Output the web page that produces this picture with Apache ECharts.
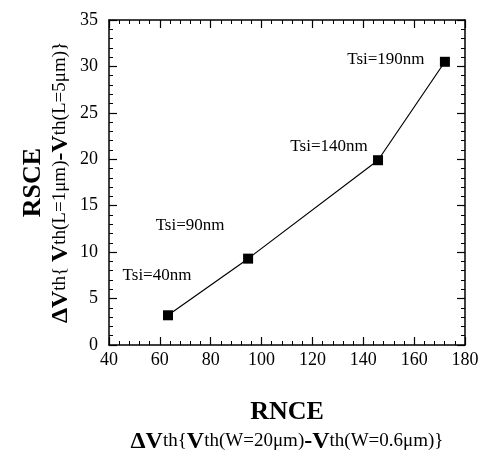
<!DOCTYPE html>
<html>
<head>
<meta charset="utf-8">
<script src="https://cdn.jsdelivr.net/npm/echarts@6/dist/echarts.min.js"></script>
<style>
  html, body { margin: 0; padding: 0; background: #fff; }
  #chart { width: 480px; height: 454px; }
</style>
</head>
<body>
<div id="chart"></div>
<script>
// data
var rnce = [63.2, 94.7, 145.8, 172.1];
var rsce = [3.2, 9.3, 19.9, 30.5];
var tsiLabels = ["Tsi=40nm", "Tsi=90nm", "Tsi=140nm", "Tsi=190nm"];

// where each label sits relative to its marker (px)
var labelOffsets = [[-11, -40], [-58, -33], [-49, -14], [-59, -2]];

var serif = "Liberation Serif";

var myChart = echarts.init(document.getElementById("chart"));

function nameRich(lh) {
  return {
    t: { fontFamily: serif, fontWeight: "bold", fontSize: 26, color: "#000", lineHeight: lh },
    b: { fontFamily: serif, fontWeight: "bold", fontSize: 24, color: "#000", lineHeight: lh },
    s: { fontFamily: serif, fontWeight: "normal", fontSize: 19, color: "#000", lineHeight: lh }
  };
}

function axisBase(pos, showLabel, margin) {
  return {
    type: "value",
    position: pos,
    axisLine: { show: true, onZero: false, lineStyle: { color: "#000", width: 1.5 } },
    axisTick: { show: true, inside: true, length: 8, lineStyle: { color: "#000", width: 1.2 } },
    minorTick: { show: true, splitNumber: 5, length: 4, lineStyle: { color: "#000", width: 1 } },
    splitLine: { show: false },
    axisLabel: {
      show: showLabel,
      color: "#000",
      fontFamily: serif,
      fontSize: 18,
      margin: margin
    }
  };
}

var xBottom = axisBase("bottom", true, 6);
xBottom.min = 40; xBottom.max = 180; xBottom.interval = 20;
xBottom.name = "{t|RNCE}\n{b|ΔV}{s|th}{{b|V}{s|th(W=20μm)}{b|-V}{s|th(W=0.6μm)}}";
xBottom.nameLocation = "middle";
xBottom.nameGap = 53;
xBottom.nameTextStyle = { fontFamily: serif, fontSize: 19, color: "#000", lineHeight: 29, rich: nameRich(29) };

var xTop = axisBase("top", false, 8);
xTop.min = 40; xTop.max = 180; xTop.interval = 20;

var yLeft = axisBase("left", true, 11);
yLeft.min = 0; yLeft.max = 35; yLeft.interval = 5;
yLeft.name = "{t|RSCE}\n{b|ΔV}{s|th}{ {b|V}{s|th(L=1μm)}{b|-V}{s|th(L=5μm)}}";
yLeft.nameLocation = "middle";
yLeft.nameRotate = 90;
yLeft.nameMoveOverlap = false;
yLeft.nameGap = 35;
yLeft.nameTextStyle = { fontFamily: serif, fontSize: 19, color: "#000", lineHeight: 27, rich: nameRich(27) };

var yRight = axisBase("right", false, 8);
yRight.min = 0; yRight.max = 35; yRight.interval = 5;

var points = rnce.map(function(x, i) {
  return {
    value: [x, rsce[i]],
    label: { offset: labelOffsets[i], formatter: tsiLabels[i] }
  };
});

var option = {
  backgroundColor: "#fff",
  animation: false,
  grid: { left: 109, right: 15, top: 20, bottom: 109, containLabel: false, outerBoundsMode: "none" },
  xAxis: [xBottom, xTop],
  yAxis: [yLeft, yRight],
  series: [
    {
      type: "line",
      xAxisIndex: 0,
      yAxisIndex: 0,
      data: points,
      symbol: "rect",
      symbolSize: 10,
      itemStyle: { color: "#000" },
      lineStyle: { color: "#000", width: 1.2 },
      label: {
        show: true,
        position: "inside",
        align: "center",
        verticalAlign: "middle",
        color: "#000",
        fontFamily: serif,
        fontSize: 17
      }
    }
  ]
};
myChart.setOption(option);
window.addEventListener("resize", function() {
  myChart.resize();
});
</script>
</body>
</html>
